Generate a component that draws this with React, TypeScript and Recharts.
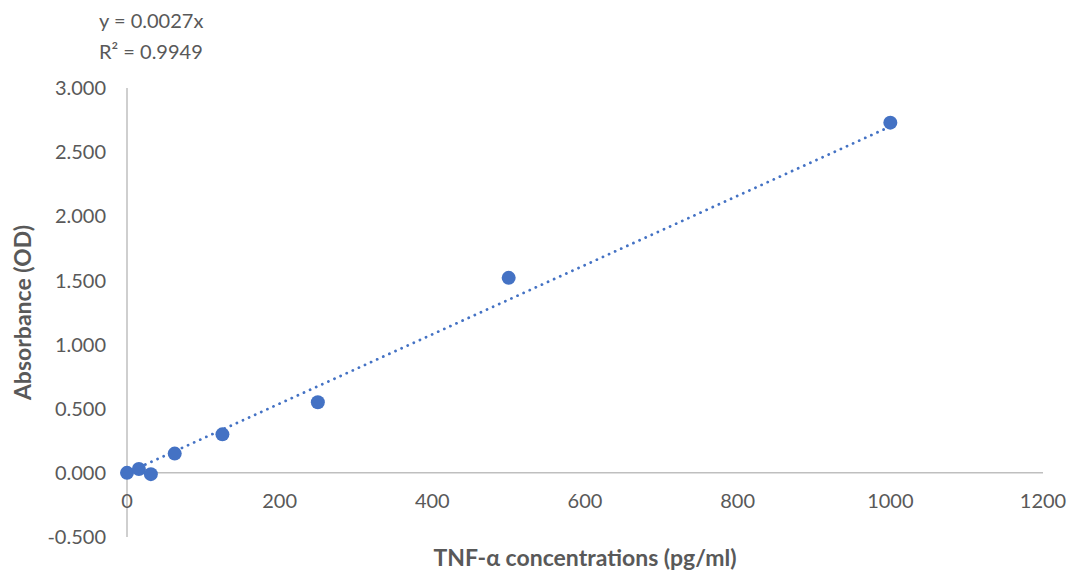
import {
  ScatterChart,
  Scatter,
  XAxis,
  YAxis,
  ReferenceLine,
  Label,
} from "recharts";

// TNF-α standard curve
const concentrations = [0, 15.6, 31.25, 62.5, 125, 250, 500, 1000];
const absorbances = [0.0, 0.03, -0.01, 0.15, 0.3, 0.55, 1.52, 2.73];

// linear trendline through origin, y = 0.0027x
const trendX = [0, 1000];
const trendY = [0, 2.7];

const xTicks = [0, 200, 400, 600, 800, 1000, 1200];
const yTicks = [-0.5, 0, 0.5, 1, 1.5, 2, 2.5, 3];

const equationLines = ["y = 0.0027x", "R² = 0.9949"];

const BLUE = "#4472c4";
const TEXT = "#595959";
const AXIS = "#bfbfbf";
const FONT = "Lato, 'Open Sans', sans-serif";

const points = concentrations.map((x, i) => ({ x, y: absorbances[i] }));
const trend = trendX.map((x, i) => ({ x, y: trendY[i] }));

function XTick({ x, y, payload }: any) {
  // Excel draws these labels right under the zero line, not at the plot bottom
  return (
    <text
      x={x}
      y={y - 37}
      textAnchor="middle"
      dominantBaseline="central"
      fill={TEXT}
      fontSize={20}
      fontFamily={FONT}
    >
      {payload.value}
    </text>
  );
}

export default function App() {
  return (
    <div style={{ position: "absolute", left: 0, top: 0, width: 1071, height: 570, background: "#fff" }}>
      <div
        style={{
          position: "absolute",
          left: 99,
          top: 5,
          color: TEXT,
          fontFamily: FONT,
          fontSize: 20,
          lineHeight: "31px",
        }}
      >
        {equationLines.map((l) => (
          <div key={l}>{l}</div>
        ))}
      </div>
      <ScatterChart
        width={1071}
        height={570}
        margin={{ top: 88, right: 28, left: 0, bottom: 0 }}
      >
        <XAxis
          type="number"
          dataKey="x"
          domain={[0, 1200]}
          ticks={xTicks}
          axisLine={false}
          tickLine={false}
          tickSize={0}
          tickMargin={0}
          height={33}
          tick={<XTick />}
          interval={0}
        >
          <Label
            content={({ viewBox }: any) => (
              <text
                x={viewBox.x + viewBox.width / 2}
                y={viewBox.y + 20}
                textAnchor="middle"
                dominantBaseline="central"
                fill={TEXT}
                fontSize={23}
                fontWeight="bold"
                fontFamily={FONT}
              >
                TNF-α concentrations (pg/ml)
              </text>
            )}
          />
        </XAxis>
        <YAxis
          type="number"
          dataKey="y"
          domain={[-0.5, 3]}
          ticks={yTicks}
          interval={0}
          width={127}
          axisLine={{ stroke: AXIS, strokeWidth: 1.5 }}
          tickLine={false}
          tickSize={0}
          tickMargin={21}
          tickFormatter={(v: number) => v.toFixed(3)}
          tick={{ fill: TEXT, fontSize: 20, fontFamily: FONT }}
        >
          <Label
            content={({ viewBox }: any) => {
              const cx = 22;
              const cy = viewBox.y + viewBox.height / 2;
              return (
                <text
                  x={cx}
                  y={cy}
                  transform={`rotate(-90 ${cx} ${cy})`}
                  textAnchor="middle"
                  dominantBaseline="central"
                  fill={TEXT}
                  fontSize={23}
                  fontWeight="bold"
                  fontFamily={FONT}
                >
                  Absorbance (OD)
                </text>
              );
            }}
          />
        </YAxis>
        <ReferenceLine y={0} stroke={AXIS} strokeWidth={1.5} />
        <Scatter
          data={trend}
          isAnimationActive={false}
          line={{
            stroke: BLUE,
            strokeWidth: 2.75,
            strokeDasharray: "0.1 6.6",
            strokeLinecap: "round",
          }}
          shape={() => <g />}
        />
        <Scatter
          data={points}
          isAnimationActive={false}
          fill={BLUE}
          shape={(p: any) => <circle cx={p.cx} cy={p.cy} r={7} fill={BLUE} />}
        />
      </ScatterChart>
    </div>
  );
}
